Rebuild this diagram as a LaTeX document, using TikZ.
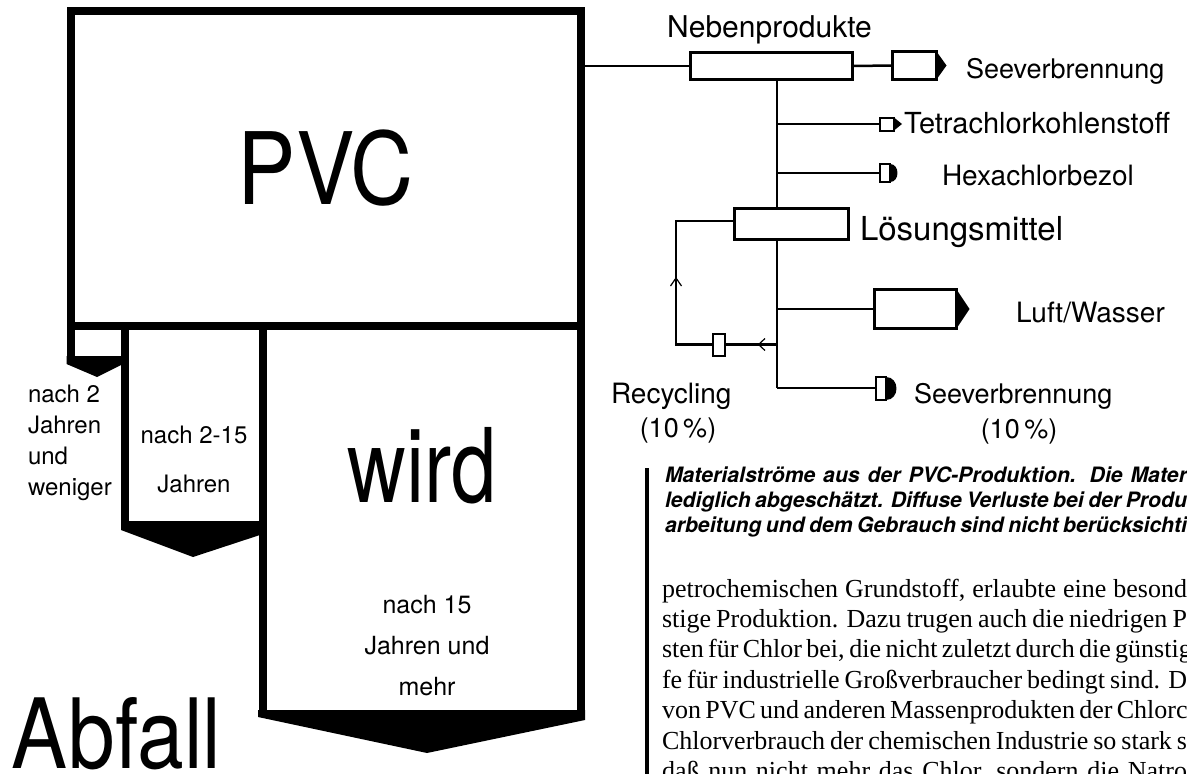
\documentclass[tikz,border=0pt]{standalone}
\usepackage{graphicx}
\usepackage{fontspec}
\setmainfont{TeX Gyre Heros}
\newfontfamily\bodyserif{Liberation Serif}
\usetikzlibrary{calc}

\tikzset{
  wall/.style={line width=8pt},
  bigbox/.style={draw, line width=8pt, inner sep=0pt, outer sep=0pt},
  flowbox/.style={draw, line width=3pt, fill=white, inner sep=0pt, outer sep=0pt},
  markbox/.style={draw, line width=2pt, fill=white, inner sep=0pt, outer sep=0pt},
  conn/.style={line width=2.5pt},
  lbl/.style={inner sep=0pt, outer sep=0pt},
  tickmark/.style={line width=1.2pt},
}

\begin{document}
\begin{tikzpicture}[x=1pt,y=-1pt]
\useasboundingbox (0,0) rectangle (1187,774);
\clip (0,0) rectangle (1187,774);
\fill[white] (0,0) rectangle (1187,774);

% ---------- PVC and the three waste columns ----------
\node[bigbox, minimum width=510.5pt, minimum height=315pt] (pvc) at (325.75,168.5)
  {\fontsize{100}{110}\selectfont\scalebox{0.875}[1]{PVC}};

\fill (66.5,356) -- (125,356) -- (125,363) -- (97,377) -- (66.5,364) -- cycle;
\fill (121,521) -- (266,521) -- (266,533) -- (193,557) -- (121,530) -- cycle;
\fill (258,710) -- (585,710) -- (585,720) -- (427,753) -- (258,717) -- cycle;

\draw[wall] (70.5,326) -- (70.5,360);
\draw[wall] (125,326) -- (125,525);
\draw[wall] (262.5,326) -- (262.5,714);
\draw[wall] (581,326) -- (581,714);

\node[lbl, anchor=base west] (n2) at (28,402)
  {\fontsize{24}{31}\selectfont\begin{tabular}[t]{@{}l@{}}nach 2\\Jahren\\und\\weniger\end{tabular}};
\node[lbl, anchor=base] (n215) at (194,443)
  {\fontsize{24}{49}\selectfont\begin{tabular}[t]{@{}c@{}}nach 2-15\\Jahren\end{tabular}};
\node[lbl, anchor=base] (wird) at (422,502)
  {\fontsize{103}{110}\selectfont\scalebox{0.79}[1]{wird}};
\node[lbl, anchor=base] (n15) at (427,613)
  {\fontsize{25}{41}\selectfont\begin{tabular}[t]{@{}c@{}}nach 15\\Jahren und\\mehr\end{tabular}};
\node[lbl, anchor=base west] (abfall) at (12,768)
  {\fontsize{97}{100}\selectfont\scalebox{0.865}[1]{Abfall}};

% ---------- material flows ----------
\coordinate (tr) at (777,388);

\node[flowbox, minimum width=162pt, minimum height=27pt] (neb) at (771.5,66) {};
\node[lbl, anchor=base] (nebl) at (769.5,37) {\fontsize{30}{36}\selectfont Nebenprodukte};
\draw[conn] (pvc.east |- neb) -- (neb.west);

\node[flowbox, minimum width=44pt, minimum height=28pt] (see1) at (914.5,65.5) {};
\fill (see1.north east) -- ($(see1.east)+(10,0)$) -- (see1.south east) -- cycle;
\draw[conn] (neb.east) -- (see1.west);
\node[lbl, anchor=base west] (see1l) at (966,78) {\fontsize{27}{34}\selectfont Seeverbrennung};

\node[flowbox, minimum width=114pt, minimum height=31pt] (loes) at (791.5,224) {};
\node[lbl, anchor=base west] (loesl) at (860,240) {\fontsize{33}{40}\selectfont Lösungsmittel};
\draw[conn] (neb.south -| tr) -- (loes.north -| tr);
\draw[conn] (loes.south -| tr) -- (tr);

\node[markbox, minimum width=14pt, minimum height=13pt] (tetra) at (887,124) {};
\fill (tetra.north east) -- ($(tetra.east)+(8,0)$) -- (tetra.south east) -- cycle;
\draw[conn] (tetra.west -| tr) -- (tetra.west);
\node[lbl, anchor=base west] (tetral) at (904,133) {\fontsize{29}{34}\selectfont Tetrachlorkohlenstoff};

\node[markbox, minimum width=10pt, minimum height=18pt] (hexa) at (885,173) {};
\fill (hexa.north east) .. controls +(10,0) and +(10,0) .. (hexa.south east) -- cycle;
\draw[conn] (hexa.west -| tr) -- (hexa.west);
\node[lbl, anchor=base west] (hexal) at (942,185) {\fontsize{28}{34}\selectfont Hexachlorbezol};

\node[flowbox, minimum width=82pt, minimum height=39pt] (lw) at (915.5,309) {};
\fill (lw.north east) -- ($(lw.east)+(13,0)$) -- (lw.south east) -- cycle;
\draw[conn] (tr |- lw) -- (lw.west);
\node[lbl, anchor=base west] (lwl) at (1016,322) {\fontsize{28}{34}\selectfont Luft/Wasser};

\node[markbox, minimum width=10pt, minimum height=23pt] (see2) at (881,388) {};
\fill (see2.north east) .. controls +(14,0) and +(14,0) .. (see2.south east) -- cycle;
\draw[conn] (tr) -- (see2.west);
\node[lbl, anchor=base west] (see2l) at (914,403) {\fontsize{27}{34}\selectfont Seeverbrennung};
\node[lbl, anchor=base] (see2p) at (1019,438) {\fontsize{27}{34}\selectfont (10\,\%)};

% recycling loop
\coordinate (rtop) at (676,221);
\coordinate (rbot) at (676,344.5);
\node[markbox, minimum width=12pt, minimum height=22pt] (recb) at (719,344.5) {};
\draw[conn] (tr |- recb) -- (recb.east);
\draw[conn] (recb.west) -- (rbot) -- (rtop) -- (rtop -| loes.west);
\draw[tickmark] (670.5,286) -- (676,278) -- (681.5,286);
\draw[tickmark] (765,338.5) -- (758.5,344.5) -- (765,350.5);
\node[lbl, anchor=base west] (recl) at (611,403) {\fontsize{28}{34}\selectfont Recycling};
\node[lbl, anchor=base] (recp) at (678,437) {\fontsize{27}{34}\selectfont (10\,\%)};

% ---------- caption and running text ----------
\draw[line width=3.5pt] (647,468) -- (647,774);
\node[lbl, anchor=base west] (cap) at (665,482)
  {\fontsize{21.2}{25}\selectfont\bfseries\itshape\begin{tabular}[t]{@{}l@{}}
  \makebox[522pt][s]{Materialströme aus der PVC-Produktion. Die Mater}\\
  \makebox[522pt][s]{lediglich abgeschätzt. Diffuse Verluste bei der Produ}\\
  \makebox[522pt][s]{arbeitung und dem Gebrauch sind nicht berücksichti}
  \end{tabular}};
\node[lbl, anchor=base west] (body) at (662,597)
  {\bodyserif\fontsize{26}{30.4}\selectfont\begin{tabular}[t]{@{}l@{}}
  \makebox[525pt][s]{petrochemischen Grundstoff, erlaubte eine besond}\\
  \makebox[525pt][s]{stige Produktion. Dazu trugen auch die niedrigen P}\\
  \makebox[525pt][s]{sten für Chlor bei, die nicht zuletzt durch die günstig}\\
  \makebox[525pt][s]{fe für industrielle Großverbraucher bedingt sind. D}\\
  \makebox[525pt][s]{von PVC und anderen Massenprodukten der Chlorc}\\
  \makebox[525pt][s]{Chlorverbrauch der chemischen Industrie so stark s}\\
  \makebox[525pt][s]{daß nun nicht mehr das Chlor, sondern die Natro}
  \end{tabular}};
\end{tikzpicture}
\end{document}
